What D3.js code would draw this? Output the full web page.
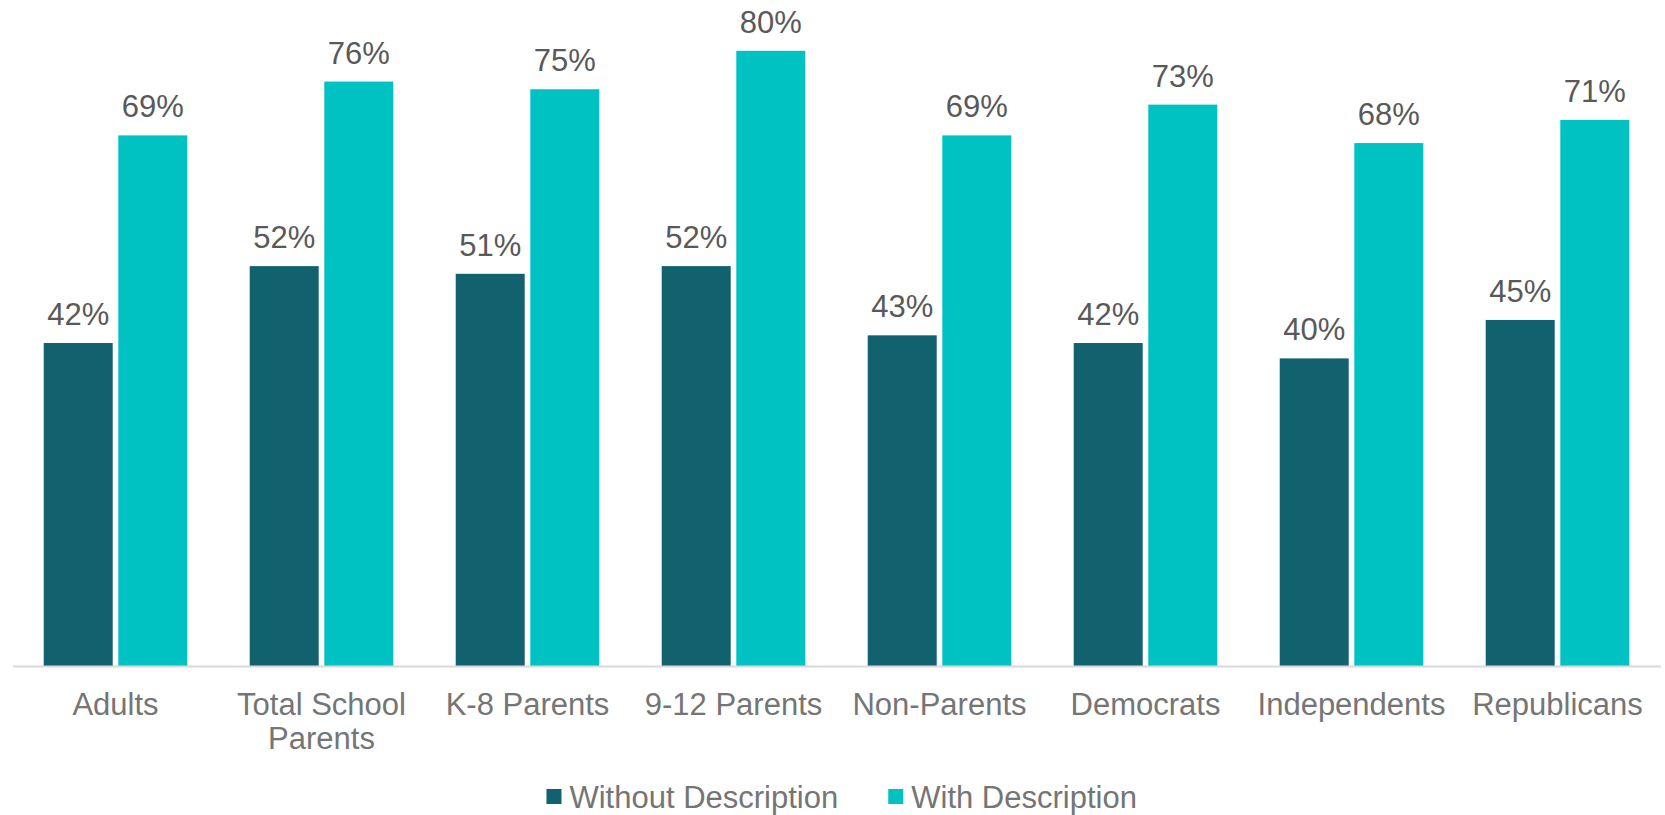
<!DOCTYPE html>
<html>
<head>
<meta charset="utf-8">
<script src="https://cdn.jsdelivr.net/npm/d3@7"></script>
<style>
  html, body { margin: 0; padding: 0; background: #ffffff; }
  svg { display: block; }
</style>
</head>
<body>
<svg id="chart" width="1665" height="815"></svg>
<script>
const categories = ["Adults", "Total School Parents", "K-8 Parents", "9-12 Parents", "Non-Parents", "Democrats", "Independents", "Republicans"];
const seriesNames = ["Without Description", "With Description"];
const withoutDescription = [0.42, 0.52, 0.51, 0.52, 0.43, 0.42, 0.40, 0.45];
const withDescription = [0.69, 0.76, 0.75, 0.80, 0.69, 0.73, 0.68, 0.71];
const seriesColors = ["#12616f", "#00c2c2"];

const seriesValues = [withoutDescription, withDescription];
const data = categories.map((c, i) => ({
  category: c,
  values: seriesNames.map((s, j) => ({ series: s, value: seriesValues[j][i], idx: j }))
}));

const svg = d3.select("#chart");
const font = "Arial, 'Liberation Sans', sans-serif";
const fontSize = 31;

const x0 = d3.scaleBand()
  .domain(categories)
  .range([12.5, 1660.5])
  .paddingInner(0.303)
  .paddingOuter(0.1515);

const x1 = d3.scaleBand()
  .domain(seriesNames)
  .range([0, x0.bandwidth()])
  .paddingInner(0.075);

const baseY = 666;
const y = d3.scaleLinear().domain([0, 1]).range([baseY, baseY - 769]);

// bars
const groups = svg.append("g").selectAll("g")
  .data(data).join("g")
  .attr("transform", d => `translate(${x0(d.category)},0)`);

groups.selectAll("rect")
  .data(d => d.values).join("rect")
  .attr("x", d => x1(d.series))
  .attr("y", d => y(d.value))
  .attr("width", x1.bandwidth())
  .attr("height", d => y(0) - y(d.value))
  .attr("fill", d => seriesColors[d.idx]);

groups.selectAll("text.lbl")
  .data(d => d.values).join("text")
  .attr("class", "lbl")
  .attr("x", d => x1(d.series) + x1.bandwidth() / 2)
  .attr("y", d => y(d.value) - 18)
  .attr("text-anchor", "middle")
  .attr("font-family", font)
  .attr("font-size", fontSize)
  .attr("fill", "#595959")
  .text(d => Math.round(d.value * 100) + "%");

// x axis
const xAxis = d3.axisBottom(x0).tickSize(0).tickSizeOuter(0).tickPadding(27);
const axisG = svg.append("g")
  .attr("transform", `translate(0,${baseY})`)
  .call(xAxis);
axisG.select(".domain").attr("stroke", "#d9d9d9").attr("stroke-width", 2);
axisG.selectAll(".tick text")
  .attr("font-family", font)
  .attr("font-size", fontSize)
  .attr("fill", "#757575")
  .attr("dy", "0.71em")
  .call(wrap, x0.step() - 4);

function wrap(texts, width) {
  texts.each(function() {
    const text = d3.select(this);
    const words = text.text().split(/\s+/);
    const yAttr = text.attr("y");
    const dy = parseFloat(text.attr("dy"));
    text.text(null);
    let line = [];
    let lineNumber = 0;
    const lineHeight = 34;
    let tspan = text.append("tspan").attr("x", 0).attr("y", yAttr).attr("dy", dy + "em");
    for (const w of words) {
      line.push(w);
      tspan.text(line.join(" "));
      if (tspan.node().getComputedTextLength() > width && line.length > 1) {
        line.pop();
        tspan.text(line.join(" "));
        line = [w];
        lineNumber++;
        tspan = text.append("tspan").attr("x", 0)
          .attr("y", +yAttr + lineNumber * lineHeight + dy * fontSize)
          .text(w);
      }
    }
  });
}

// legend
const legend = svg.append("g");
const items = legend.selectAll("g").data(seriesNames).join("g");
items.append("rect")
  .attr("width", 15).attr("height", 15)
  .attr("y", -7.5)
  .attr("fill", (d, i) => seriesColors[i]);
items.append("text")
  .attr("x", 23)
  .attr("y", 11.5)
  .attr("font-family", font)
  .attr("font-size", fontSize)
  .attr("fill", "#757575")
  .text(d => d);
let cx = 0;
const gapBetween = 50;
items.each(function() {
  const g = d3.select(this);
  g.attr("transform", `translate(${cx},0)`);
  const w = 23 + g.select("text").node().getComputedTextLength();
  cx += w + gapBetween;
});
const totalW = cx - gapBetween;
legend.attr("transform", `translate(${841.7 - totalW / 2},796.5)`);
</script>
</body>
</html>
